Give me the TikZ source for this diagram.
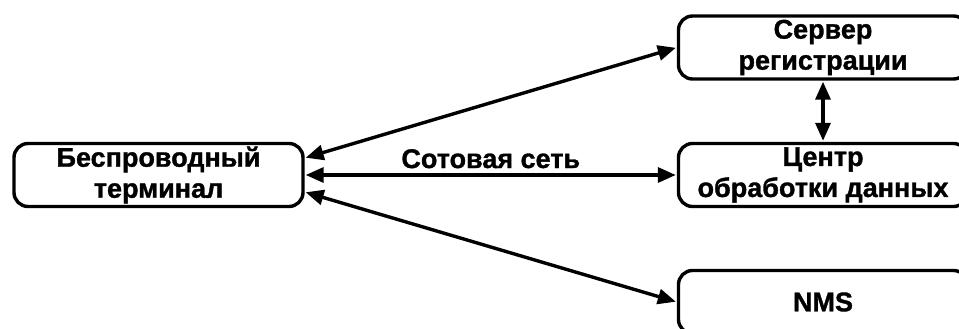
\documentclass[tikz,border=0pt]{standalone}
\usepackage{fontspec}
\setmainfont{Liberation Sans}
\newfontfamily\heavyfont[FakeBold=1.2]{Liberation Sans Bold}
\usetikzlibrary{arrows.meta, positioning}

\begin{document}
\begin{tikzpicture}[
    x=1pt, y=-1pt,
    >={Triangle[length=18pt, width=15pt]},
    box/.style={draw, line width=3.4pt, rounded corners=14pt, minimum width=289pt, minimum height=63pt, align=center, inner sep=0pt, font=\heavyfont\fontsize{27}{31}\selectfont},
    link/.style={<->, line width=3.4pt, shorten <=1pt, shorten >=1pt},
    lbl/.style={font=\heavyfont\fontsize{27}{31}\selectfont, inner sep=3pt},
    ]
  \useasboundingbox (0,0) rectangle (959,329);
  \clip (0,0) rectangle (959,329);

  \node[box] (term) at (158.5, 175) {Беспроводный\\терминал};
  \node[box] (srv) at (823, 47.5) {Сервер\\регистрации};
  \node[box] (ctr) at (823, 175) {Центр\\обработки данных};
  \node[box] (nms) at (823, 302) {NMS};

  \draw[link] ([yshift=17pt]term.east) -- (srv.west);
  \draw[link] (term.east) -- node[lbl, above=2pt] {Сотовая сеть} (ctr.west);
  \draw[link] ([yshift=-17pt]term.east) -- (nms.west);
  \draw[link] (srv.south) -- (ctr.north);
\end{tikzpicture}
\end{document}
